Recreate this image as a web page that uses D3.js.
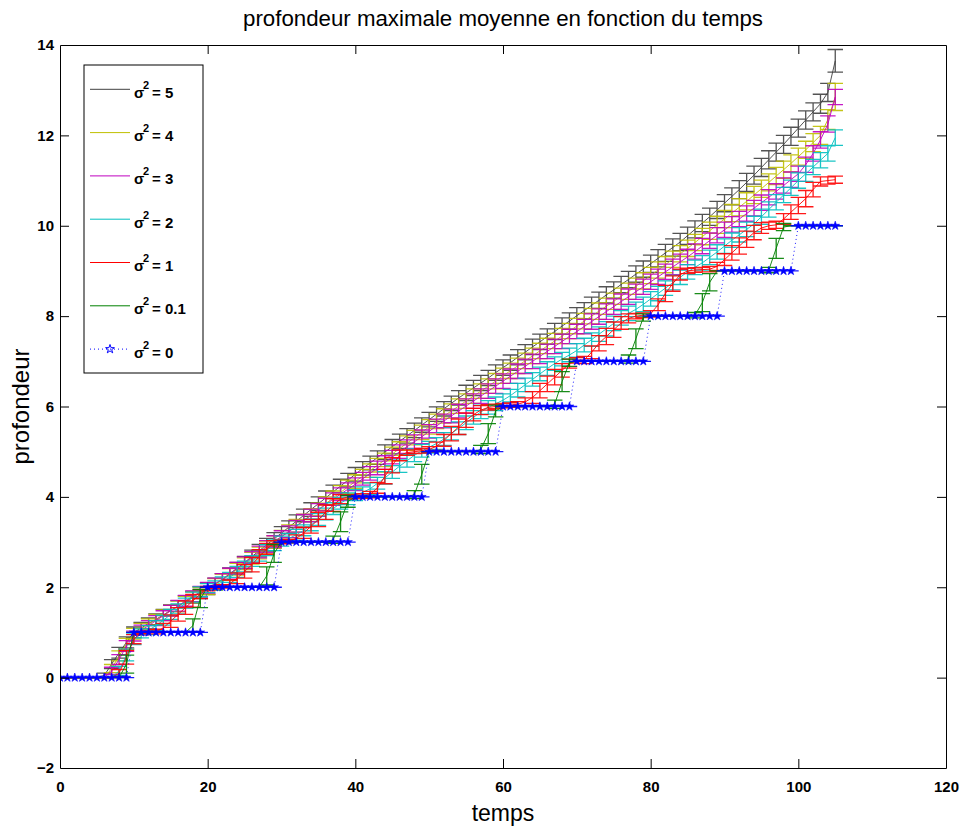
<!DOCTYPE html>
<html>
<head>
<meta charset="utf-8">
<script src="https://cdn.jsdelivr.net/npm/d3@7"></script>
<style>
  body { margin: 0; background: #fff; }
  svg { display: block; }
  text { font-family: "Liberation Sans", Arial, Helvetica, sans-serif; fill: #000; }
</style>
</head>
<body>
<script>
// time steps
const temps = [
  0,1,2,3,4,5,6,7,8,9, 10,11,12,13,14,15,16,17,18,19,
  20,21,22,23,24,25,26,27,28,29, 30,31,32,33,34,35,36,37,38,39,
  40,41,42,43,44,45,46,47,48,49, 50,51,52,53,54,55,56,57,58,59,
  60,61,62,63,64,65,66,67,68,69, 70,71,72,73,74,75,76,77,78,79,
  80,81,82,83,84,85,86,87,88,89, 90,91,92,93,94,95,96,97,98,99,
  100,101,102,103,104,105
];

// legend labels (sigma^2 values), in plotting order
const variances = ["5", "4", "3", "2", "1", "0.1", "0"];

// mean maximal depth, sigma^2 = 5
const moy5 = [
  0,0,0,0,0,0,0.05,0.3,0.55,0.78,
  1.0,1.1,1.2,1.29,1.39,1.49,1.58,1.68,1.78,1.88,
  1.97,2.07,2.17,2.3,2.42,2.55,2.68,2.81,2.94,3.07,
  3.2,3.33,3.46,3.59,3.72,3.85,3.98,4.11,4.24,4.37,
  4.5,4.63,4.75,4.87,4.99,5.11,5.23,5.35,5.47,5.59,
  5.71,5.83,5.95,6.07,6.19,6.3,6.41,6.52,6.63,6.75,
  6.86,6.97,7.09,7.2,7.32,7.43,7.55,7.66,7.78,7.89,
  8.01,8.12,8.24,8.35,8.47,8.58,8.7,8.81,8.93,9.04,
  9.16,9.28,9.4,9.52,9.64,9.78,9.92,10.06,10.2,10.35,
  10.5,10.65,10.8,10.96,11.12,11.29,11.46,11.63,11.8,11.98,
  12.16,12.34,12.52,12.7,12.95,13.65
];
const err5 = [
  0,0,0,0,0,0,0.05,0.1,0.12,0.12,
  0.12,0.12,0.12,0.12,0.12,0.12,0.12,0.13,0.13,0.13,
  0.13,0.13,0.13,0.13,0.13,0.13,0.14,0.14,0.14,0.14,
  0.14,0.14,0.14,0.14,0.15,0.15,0.15,0.15,0.15,0.15,
  0.15,0.15,0.15,0.15,0.16,0.16,0.16,0.16,0.16,0.16,
  0.16,0.16,0.16,0.16,0.16,0.17,0.17,0.17,0.17,0.17,
  0.17,0.17,0.17,0.17,0.17,0.17,0.17,0.18,0.18,0.18,
  0.18,0.18,0.18,0.18,0.18,0.18,0.18,0.18,0.18,0.18,
  0.19,0.19,0.19,0.19,0.19,0.19,0.19,0.19,0.19,0.19,
  0.19,0.19,0.2,0.2,0.2,0.2,0.2,0.2,0.2,0.2,
  0.2,0.2,0.2,0.21,0.2,0.25
];

// sigma^2 = 4
const moy4 = [
  0,0,0,0,0,0,0,0.2,0.48,0.75,
  0.97,1.08,1.18,1.28,1.38,1.48,1.58,1.68,1.78,1.88,
  1.97,2.06,2.16,2.28,2.4,2.52,2.64,2.76,2.88,3.0,
  3.12,3.24,3.36,3.48,3.6,3.72,3.85,3.98,4.1,4.22,
  4.34,4.46,4.58,4.7,4.82,4.95,5.07,5.19,5.31,5.43,
  5.55,5.67,5.79,5.9,6.01,6.12,6.23,6.34,6.45,6.56,
  6.68,6.79,6.9,7.01,7.12,7.23,7.34,7.45,7.56,7.67,
  7.78,7.89,8.0,8.11,8.22,8.33,8.44,8.55,8.66,8.78,
  8.9,9.02,9.14,9.26,9.38,9.5,9.63,9.76,9.89,10.02,
  10.15,10.28,10.41,10.54,10.68,10.82,10.96,11.1,11.24,11.38,
  11.53,11.68,11.84,12.0,12.35,12.85
];
const err4 = [
  0,0,0,0,0,0,0,0.09,0.11,0.12,
  0.12,0.12,0.12,0.12,0.12,0.12,0.12,0.12,0.12,0.12,
  0.13,0.13,0.13,0.13,0.13,0.13,0.13,0.13,0.14,0.14,
  0.14,0.14,0.14,0.14,0.14,0.14,0.15,0.15,0.15,0.15,
  0.15,0.15,0.15,0.15,0.15,0.15,0.15,0.16,0.16,0.16,
  0.16,0.16,0.16,0.16,0.16,0.16,0.16,0.16,0.16,0.17,
  0.17,0.17,0.17,0.17,0.17,0.17,0.17,0.17,0.17,0.17,
  0.17,0.17,0.17,0.18,0.18,0.18,0.18,0.18,0.18,0.18,
  0.18,0.18,0.18,0.18,0.18,0.18,0.18,0.18,0.19,0.19,
  0.19,0.19,0.19,0.19,0.19,0.19,0.19,0.19,0.19,0.19,
  0.19,0.19,0.2,0.2,0.22,0.3
];

// sigma^2 = 3
const moy3 = [
  0,0,0,0,0,0,0,0.15,0.4,0.7,
  0.92,1.05,1.15,1.26,1.37,1.48,1.59,1.7,1.8,1.9,
  1.99,2.08,2.18,2.3,2.42,2.54,2.66,2.78,2.9,3.01,
  3.12,3.23,3.35,3.47,3.59,3.71,3.83,3.95,4.06,4.17,
  4.28,4.4,4.52,4.64,4.76,4.88,5.0,5.11,5.22,5.33,
  5.45,5.57,5.68,5.79,5.9,6.01,6.12,6.23,6.34,6.45,
  6.56,6.67,6.78,6.89,7.0,7.11,7.22,7.33,7.44,7.55,
  7.66,7.77,7.88,7.99,8.1,8.21,8.32,8.43,8.54,8.65,
  8.76,8.87,8.98,9.09,9.2,9.31,9.43,9.55,9.67,9.79,
  9.91,10.03,10.15,10.27,10.39,10.51,10.63,10.76,10.89,11.02,
  11.15,11.35,11.6,11.9,12.25,12.85
];
const err3 = [
  0,0,0,0,0,0,0,0.08,0.11,0.12,
  0.11,0.11,0.11,0.11,0.11,0.12,0.12,0.12,0.12,0.12,
  0.12,0.12,0.12,0.12,0.13,0.13,0.13,0.13,0.13,0.13,
  0.13,0.13,0.13,0.14,0.14,0.14,0.14,0.14,0.14,0.14,
  0.14,0.14,0.15,0.15,0.15,0.15,0.15,0.15,0.15,0.15,
  0.15,0.15,0.15,0.15,0.15,0.16,0.16,0.16,0.16,0.16,
  0.16,0.16,0.16,0.16,0.16,0.16,0.16,0.16,0.16,0.16,
  0.16,0.16,0.17,0.17,0.17,0.17,0.17,0.17,0.17,0.17,
  0.17,0.17,0.17,0.17,0.17,0.17,0.17,0.17,0.17,0.17,
  0.17,0.17,0.17,0.17,0.17,0.17,0.17,0.17,0.17,0.17,
  0.17,0.17,0.17,0.18,0.18,0.17
];

// sigma^2 = 2
const moy2 = [
  0,0,0,0,0,0,0,0,0.15,0.5,
  0.85,0.98,1.05,1.15,1.27,1.4,1.52,1.65,1.78,1.9,
  1.98,2.04,2.12,2.22,2.34,2.46,2.58,2.7,2.82,2.93,
  3.02,3.08,3.16,3.26,3.38,3.5,3.62,3.74,3.86,3.96,
  4.04,4.1,4.18,4.3,4.42,4.55,4.68,4.8,4.92,5.02,
  5.1,5.18,5.28,5.4,5.52,5.64,5.76,5.88,5.98,6.06,
  6.14,6.24,6.36,6.48,6.6,6.72,6.84,6.95,7.05,7.14,
  7.24,7.36,7.48,7.6,7.72,7.84,7.96,8.06,8.15,8.26,
  8.38,8.5,8.62,8.74,8.86,8.98,9.08,9.18,9.3,9.42,
  9.55,9.68,9.8,9.92,10.04,10.2,10.36,10.52,10.68,10.84,
  11.0,11.15,11.3,11.45,11.6,11.95
];
const err2 = [
  0,0,0,0,0,0,0,0,0.1,0.13,
  0.12,0.1,0.1,0.11,0.11,0.11,0.11,0.11,0.11,0.11,
  0.1,0.1,0.11,0.11,0.12,0.12,0.12,0.12,0.12,0.12,
  0.11,0.11,0.12,0.12,0.13,0.13,0.13,0.13,0.13,0.13,
  0.12,0.12,0.13,0.13,0.14,0.14,0.14,0.14,0.14,0.14,
  0.13,0.13,0.14,0.14,0.14,0.15,0.15,0.15,0.15,0.15,
  0.14,0.14,0.15,0.15,0.15,0.15,0.15,0.15,0.15,0.15,
  0.15,0.15,0.15,0.16,0.16,0.16,0.16,0.16,0.16,0.16,
  0.16,0.16,0.16,0.16,0.16,0.16,0.16,0.16,0.16,0.16,
  0.16,0.16,0.16,0.16,0.17,0.17,0.17,0.17,0.17,0.17,
  0.17,0.17,0.17,0.17,0.17,0.17
];

// sigma^2 = 1
const moy1 = [
  0,0,0,0,0,0,0,0,0.1,0.45,
  0.85,1.0,1.0,1.02,1.1,1.25,1.4,1.55,1.7,1.85,
  1.97,2.0,2.02,2.08,2.2,2.35,2.5,2.68,2.85,2.97,
  3.0,3.02,3.08,3.2,3.35,3.5,3.66,3.82,3.95,4.0,
  4.0,4.02,4.05,4.2,4.45,4.7,4.92,4.98,5.0,5.02,
  5.05,5.12,5.25,5.4,5.55,5.7,5.82,5.92,5.98,6.0,
  6.02,6.03,6.05,6.1,6.2,6.35,6.5,6.65,6.8,6.95,
  7.02,7.03,7.2,7.4,7.55,7.7,7.85,7.95,8.0,8.02,
  8.05,8.25,8.5,8.72,8.92,9.0,9.02,9.03,9.04,9.1,
  9.25,9.4,9.55,9.7,9.85,9.95,10.0,10.02,10.15,10.3,
  10.45,10.6,10.8,10.98,11.0,11.02
];
const err1 = [
  0,0,0,0,0,0,0,0,0.08,0.15,
  0.1,0.02,0.03,0.05,0.1,0.14,0.15,0.15,0.14,0.1,
  0.05,0.03,0.04,0.08,0.12,0.15,0.16,0.15,0.12,0.06,
  0.04,0.04,0.08,0.12,0.15,0.16,0.16,0.14,0.1,0.05,
  0.04,0.05,0.07,0.12,0.16,0.17,0.12,0.06,0.04,0.05,
  0.06,0.09,0.13,0.16,0.17,0.16,0.14,0.1,0.06,0.05,
  0.05,0.05,0.06,0.09,0.13,0.16,0.17,0.17,0.15,0.1,
  0.06,0.08,0.14,0.17,0.18,0.17,0.14,0.1,0.06,0.05,
  0.07,0.13,0.18,0.17,0.12,0.06,0.05,0.05,0.06,0.09,
  0.13,0.16,0.18,0.18,0.16,0.12,0.08,0.08,0.12,0.16,
  0.18,0.18,0.16,0.1,0.08,0.08
];

// sigma^2 = 0.1
const moy01 = [
  0,0,0,0,0,0,0,0,0,0.3,
  1,1,1,1,1,1,1,1,1.15,1.75,
  2,2,2,2,2,2,2,2,2.25,2.75,
  3,3,3,3,3,3,3,3.05,3.45,3.9,
  4,4,4,4,4,4,4,4,4.05,4.5,
  5,5,5,5,5,5,5,5.05,5.4,5.9,
  6,6,6,6,6,6,6,6.05,6.55,6.97,
  7,7,7,7,7,7,7,7.05,7.5,7.97,
  8,8,8,8,8,8,8.02,8.3,8.75,9,
  9,9,9,9,9,9,9.02,9.5,9.97,10,
  10,10,10,10,10,10
];
const err01 = [
  0,0,0,0,0,0,0,0,0,0.2,
  0,0,0,0,0,0,0,0,0.15,0.2,
  0,0,0,0,0,0,0,0,0.2,0.2,
  0,0,0,0,0,0,0,0.08,0.22,0.13,
  0,0,0,0,0,0,0,0,0.09,0.22,
  0,0,0,0,0,0,0,0.09,0.22,0.13,
  0,0,0,0,0,0,0,0.09,0.22,0.08,
  0,0,0,0,0,0,0,0.09,0.22,0.08,
  0,0,0,0,0,0,0.06,0.2,0.19,0,
  0,0,0,0,0,0,0.06,0.22,0.08,0,
  0,0,0,0,0,0
];

// sigma^2 = 0 (deterministic staircase)
const moy0 = [
  0,0,0,0,0,0,0,0,0,0,
  1,1,1,1,1,1,1,1,1,1,
  2,2,2,2,2,2,2,2,2,2,
  3,3,3,3,3,3,3,3,3,3,
  4,4,4,4,4,4,4,4,4,4,
  5,5,5,5,5,5,5,5,5,5,
  6,6,6,6,6,6,6,6,6,6,
  7,7,7,7,7,7,7,7,7,7,
  8,8,8,8,8,8,8,8,8,8,
  9,9,9,9,9,9,9,9,9,9,
  10,10,10,10,10,10
];
const err0 = [
  0,0,0,0,0,0,0,0,0,0, 0,0,0,0,0,0,0,0,0,0,
  0,0,0,0,0,0,0,0,0,0, 0,0,0,0,0,0,0,0,0,0,
  0,0,0,0,0,0,0,0,0,0, 0,0,0,0,0,0,0,0,0,0,
  0,0,0,0,0,0,0,0,0,0, 0,0,0,0,0,0,0,0,0,0,
  0,0,0,0,0,0,0,0,0,0, 0,0,0,0,0,0,0,0,0,0,
  0,0,0,0,0,0
];

const xTicks = [0, 20, 40, 60, 80, 100, 120];
const yTicks = [-2, 0, 2, 4, 6, 8, 10, 12, 14];

// ---------------------------------------------------------------
const W = 963, H = 836;
const plot = { left: 60, right: 946, top: 45, bottom: 768 };

const x = d3.scaleLinear().domain([0, 120]).range([plot.left, plot.right]);
const y = d3.scaleLinear().domain([-2, 14]).range([plot.bottom, plot.top]);

const series = [
  { label: variances[0], mean: moy5,  err: err5,  color: "#404040" },
  { label: variances[1], mean: moy4,  err: err4,  color: "#bfbf00" },
  { label: variances[2], mean: moy3,  err: err3,  color: "#bf00bf" },
  { label: variances[3], mean: moy2,  err: err2,  color: "#00bfbf" },
  { label: variances[4], mean: moy1,  err: err1,  color: "#ff0000" },
  { label: variances[5], mean: moy01, err: err01, color: "#008000" },
  { label: variances[6], mean: moy0,  err: err0,  color: "#0000ff", dotted: true, star: true }
];

const svg = d3.select("body").append("svg")
  .attr("width", W).attr("height", H)
  .attr("viewBox", `0 0 ${W} ${H}`);

svg.append("rect").attr("width", W).attr("height", H).attr("fill", "#fff");

svg.append("defs").append("clipPath").attr("id", "plotclip")
  .append("rect")
  .attr("x", plot.left).attr("y", plot.top)
  .attr("width", plot.right - plot.left).attr("height", plot.bottom - plot.top);

const capHalf = 1.05; // half-width of the error-bar tees, in time units
const starSymbol = d3.symbol().type(d3.symbolStar).size(24);

const layer = svg.append("g").attr("clip-path", "url(#plotclip)");

series.forEach(s => {
  const g = layer.append("g");
  // error bars: vertical bar plus a tee at each end
  const p = d3.path();
  temps.forEach((t, i) => {
    const m = s.mean[i], e = s.err[i];
    const xc = x(t), xl = x(t - capHalf), xr = x(t + capHalf);
    const yt = y(m + e), yb = y(m - e);
    if (e > 0) { p.moveTo(xc, yt); p.lineTo(xc, yb); }
    p.moveTo(xl, yt); p.lineTo(xr, yt);
    p.moveTo(xl, yb); p.lineTo(xr, yb);
  });
  g.append("path")
    .attr("d", p.toString())
    .attr("fill", "none")
    .attr("stroke", s.color)
    .attr("stroke-width", 1.3)
    .attr("stroke-opacity", 0.9);

  // mean curve
  const line = d3.line().x((t) => x(t)).y((t, i) => y(s.mean[i]));
  g.append("path")
    .attr("d", line(temps))
    .attr("fill", "none")
    .attr("stroke", s.color)
    .attr("stroke-width", 0.9)
    .attr("stroke-dasharray", s.dotted ? "1,3" : null);

  if (s.star) {
    g.selectAll("path.star")
      .data(temps)
      .join("path")
      .attr("class", "star")
      .attr("d", starSymbol)
      .attr("transform", (t, i) => `translate(${x(t)},${y(s.mean[i])})`)
      .attr("fill", s.color)
      .attr("stroke", s.color)
      .attr("stroke-width", 0.6);
  }
});

// ---------------- axes (box with inward ticks on all sides) -------------
const tickLen = 9;
const axisFont = "bold 15px 'Liberation Sans', Arial, sans-serif";

const gB = svg.append("g").attr("transform", `translate(0,${plot.bottom})`)
  .call(d3.axisBottom(x).tickValues(xTicks).tickSizeInner(-tickLen).tickSizeOuter(0).tickPadding(13));
const gT = svg.append("g").attr("transform", `translate(0,${plot.top})`)
  .call(d3.axisTop(x).tickValues(xTicks).tickSizeInner(-tickLen).tickSizeOuter(0).tickFormat(""));
const gL = svg.append("g").attr("transform", `translate(${plot.left},0)`)
  .call(d3.axisLeft(y).tickValues(yTicks).tickSizeInner(-tickLen).tickSizeOuter(0).tickPadding(6));
const gR = svg.append("g").attr("transform", `translate(${plot.right},0)`)
  .call(d3.axisRight(y).tickValues(yTicks).tickSizeInner(-tickLen).tickSizeOuter(0).tickFormat(""));

[gB, gT, gL, gR].forEach(g => {
  g.selectAll("path.domain").attr("stroke", "#000").attr("stroke-width", 1);
  g.selectAll(".tick line").attr("stroke", "#000").attr("stroke-width", 1);
  g.selectAll(".tick text").style("font", axisFont).attr("fill", "#000");
});
// hide ticks that fall on the frame corners
[gT, gB].forEach(g => g.selectAll(".tick line").filter(d => d === 0 || d === 120).remove());
[gL, gR].forEach(g => g.selectAll(".tick line").filter(d => d === -2 || d === 14).remove());

// ---------------- titles ----------------
svg.append("text")
  .attr("x", (plot.left + plot.right) / 2).attr("y", 26)
  .attr("text-anchor", "middle")
  .attr("textLength", 520)
  .attr("lengthAdjust", "spacingAndGlyphs")
  .style("font-size", "22px")
  .text("profondeur maximale moyenne en fonction du temps");

svg.append("text")
  .attr("x", (plot.left + plot.right) / 2).attr("y", 821)
  .attr("text-anchor", "middle")
  .style("font-size", "23px")
  .text("temps");

svg.append("text")
  .attr("transform", `translate(29,${(plot.top + plot.bottom) / 2}) rotate(-90)`)
  .attr("text-anchor", "middle")
  .style("font-size", "24px")
  .text("profondeur");

// ---------------- legend ----------------
const leg = svg.append("g");
leg.append("rect")
  .attr("x", 84).attr("y", 65).attr("width", 119).attr("height", 308)
  .attr("fill", "#fff").attr("stroke", "#000").attr("stroke-width", 1);

series.forEach((s, i) => {
  const yy = 89.3 + i * 43.3;
  leg.append("line")
    .attr("x1", 90).attr("x2", 130).attr("y1", yy).attr("y2", yy)
    .attr("stroke", s.color).attr("stroke-width", 1)
    .attr("stroke-dasharray", s.dotted ? "1,3" : null);
  if (s.star) {
    leg.append("path")
      .attr("d", starSymbol())
      .attr("transform", `translate(110,${yy})`)
      .attr("fill", "none").attr("stroke", s.color).attr("stroke-width", 1);
  }
  const t = leg.append("text").attr("y", yy + 8.5).style("font", "bold 15px 'Liberation Sans', Arial, sans-serif");
  t.append("tspan").attr("x", 134).text("σ");
  t.append("tspan").attr("x", 143).attr("dy", -9).style("font-size", "11px").text("2");
  t.append("tspan").attr("x", 152).attr("dy", 9).text("= " + s.label);
});
</script>
</body>
</html>
